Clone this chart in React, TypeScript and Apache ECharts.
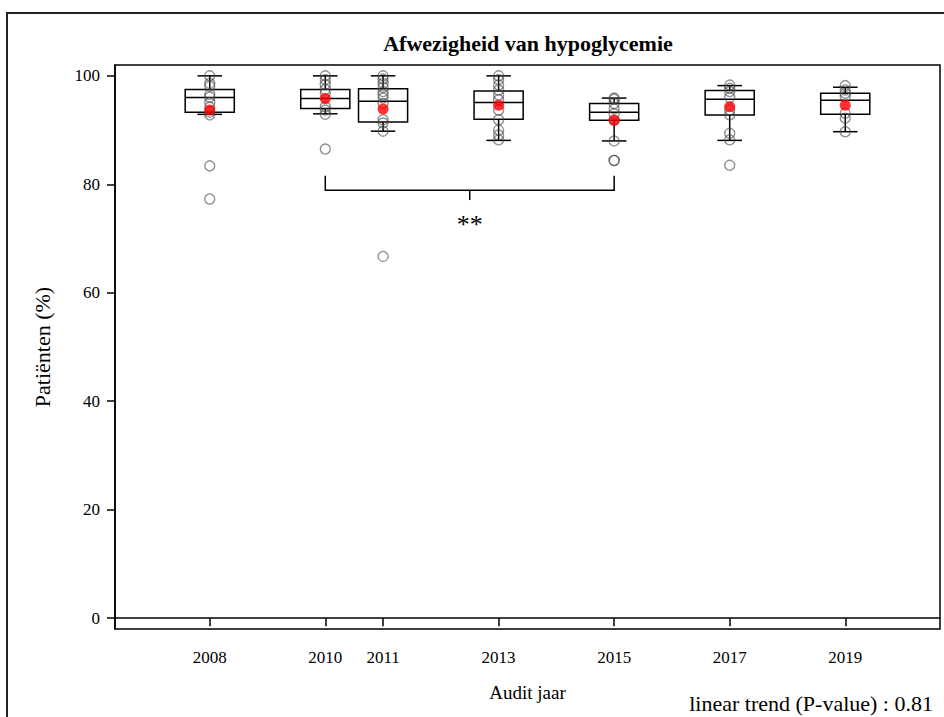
import React, { useEffect, useRef } from "react";
import * as echarts from "echarts";

// Audit years shown on the x axis
const years = [2008, 2010, 2011, 2013, 2015, 2017, 2019];

// Box statistics per audit year (percent of patients)
const whiskerLow = [92.9, 93.0, 89.8, 88.1, 88.0, 88.1, 89.7];
const q1 = [93.3, 94.0, 91.5, 92.0, 91.8, 92.8, 92.9];
const median = [96.0, 95.8, 95.3, 95.1, 93.3, 95.7, 95.5];
const q3 = [97.5, 97.5, 97.6, 97.2, 94.9, 97.3, 96.8];
const whiskerHigh = [100, 100, 100, 100, 95.9, 98.2, 97.9];
const means = [93.7, 95.8, 93.9, 94.6, 91.8, 94.3, 94.6];

// Individual practice results per audit year
const points2008 = [100, 98.6, 98.1, 96.6, 96.1, 95.1, 94.2, 93.3, 92.8, 83.4, 77.3];
const points2010 = [100, 99.3, 98.4, 97.5, 96.8, 94.3, 93.7, 92.9, 86.5];
const points2011 = [100, 99.4, 98.6, 97.9, 97.1, 96.5, 95.9, 94.9, 91.9, 91.3, 89.8, 66.7];
const points2013 = [100, 99.3, 98.3, 97.4, 96.5, 95.6, 93.7, 91.9, 90.0, 89.1, 88.2];
const points2015 = [95.9, 95.7, 94.9, 93.9, 93.0, 91.8, 88.0, 84.4, 84.4];
const points2017 = [98.3, 97.7, 97.1, 96.0, 93.7, 92.8, 89.4, 88.2, 83.5];
const points2019 = [98.2, 97.4, 96.8, 96.2, 93.1, 92.2, 89.7];
const pointsByYear = [points2008, points2010, points2011, points2013, points2015, points2017, points2019];

// Significance bracket between two audit years
const bracketFrom = 2010;
const bracketTo = 2015;
const bracketEnds = 81.6;
const bracketBar = 78.9;
const bracketTick = 77.1;
const bracketLabelAt = 72.6;
const bracketLabel = "**";

const yTicks = [0, 20, 40, 60, 80, 100];

const FONT = "'Liberation Serif', 'Times New Roman', serif";
const BOX_WIDTH_YEARS = 0.85;

export default function App() {
  const ref = useRef<HTMLDivElement>(null);

  useEffect(() => {
    if (!ref.current) return;
    document.body.style.margin = "0";
    const chart = echarts.init(ref.current, undefined, { renderer: "svg" });

    const boxData = years.map((y, i) => [y, whiskerLow[i], q1[i], median[i], q3[i], whiskerHigh[i]]);
    const pointData: number[][] = [];
    pointsByYear.forEach((list, i) => list.forEach((v) => pointData.push([years[i], v])));
    const meanData = years.map((y, i) => [y, means[i]]);

    const line = { stroke: "#000", lineWidth: 1.5 };

    const option: any = {
      animation: false,
      backgroundColor: "#fff",
      grid: {
        left: 115,
        right: 4,
        top: 65,
        bottom: 88,
        show: true,
        borderColor: "#000",
        borderWidth: 1.5,
      },
      xAxis: {
        type: "value",
        min: 2006.36,
        max: 2020.64,
        splitLine: { show: false },
        axisLine: { lineStyle: { color: "#000", width: 1.5 } },
        axisTick: { customValues: years, length: 8, lineStyle: { color: "#000", width: 1.5 } },
        axisLabel: {
          customValues: years,
          formatter: (v: number) => String(v),
          color: "#000",
          fontFamily: FONT,
          fontSize: 17,
          margin: 20,
        },
        name: "Audit jaar",
        nameLocation: "middle",
        nameGap: 54,
        nameTextStyle: { color: "#000", fontFamily: FONT, fontSize: 19 },
      },
      yAxis: {
        type: "value",
        min: -2,
        max: 102,
        splitLine: { show: false },
        axisLine: { show: true, lineStyle: { color: "#000", width: 1.5 } },
        axisTick: { show: true, customValues: yTicks, length: 8, lineStyle: { color: "#000", width: 1.5 } },
        axisLabel: {
          customValues: yTicks,
          color: "#000",
          fontFamily: FONT,
          fontSize: 17,
          margin: 15,
        },
        name: "Patiënten (%)",
        nameLocation: "middle",
        nameGap: 62,
        nameRotate: 90,
        nameTextStyle: { color: "#000", fontFamily: FONT, fontSize: 22 },
      },
      graphic: [
        {
          type: "rect",
          z: -10,
          shape: { x: 7, y: 13, width: 960, height: 740 },
          style: { fill: "none", stroke: "#222", lineWidth: 2 },
        },
        {
          type: "text",
          x: 528,
          y: 43,
          style: {
            text: "Afwezigheid van hypoglycemie",
            fill: "#000",
            font: `bold 22px ${FONT}`,
            align: "center",
            verticalAlign: "middle",
          },
        },
        {
          type: "text",
          x: 933,
          y: 703,
          style: {
            text: "linear trend (P-value) : 0.81",
            fill: "#000",
            font: `22px ${FONT}`,
            align: "right",
            verticalAlign: "middle",
          },
        },
      ],
      series: [
        {
          type: "custom",
          name: "box",
          data: boxData,
          encode: { x: 0, y: [1, 2, 3, 4, 5] },
          z: 2,
          renderItem: (_params: any, api: any) => {
            const yr = api.value(0);
            const w = api.size([BOX_WIDTH_YEARS, 0])[0];
            const [cx, yLow] = api.coord([yr, api.value(1)]);
            const yQ1 = api.coord([yr, api.value(2)])[1];
            const yMed = api.coord([yr, api.value(3)])[1];
            const yQ3 = api.coord([yr, api.value(4)])[1];
            const yHigh = api.coord([yr, api.value(5)])[1];
            const half = w / 2;
            const cap = w / 4;
            return {
              type: "group",
              children: [
                { type: "line", shape: { x1: cx, y1: yQ3, x2: cx, y2: yHigh }, style: line },
                { type: "line", shape: { x1: cx, y1: yQ1, x2: cx, y2: yLow }, style: line },
                { type: "line", shape: { x1: cx - cap, y1: yHigh, x2: cx + cap, y2: yHigh }, style: line },
                { type: "line", shape: { x1: cx - cap, y1: yLow, x2: cx + cap, y2: yLow }, style: line },
                {
                  type: "rect",
                  shape: { x: cx - half, y: yQ3, width: w, height: yQ1 - yQ3 },
                  style: { fill: "none", stroke: "#000", lineWidth: 1.5 },
                },
                { type: "line", shape: { x1: cx - half, y1: yMed, x2: cx + half, y2: yMed }, style: line },
              ],
            };
          },
        },
        {
          type: "scatter",
          name: "praktijken",
          data: pointData,
          symbol: "circle",
          symbolSize: 10,
          z: 3,
          itemStyle: { color: "rgba(0,0,0,0)", borderColor: "rgba(70,70,70,0.75)", borderWidth: 1.4 },
        },
        {
          type: "scatter",
          name: "gemiddelde",
          data: meanData,
          symbol: "circle",
          symbolSize: 11,
          z: 4,
          itemStyle: { color: "#ff0000" },
        },
        {
          type: "custom",
          name: "significantie",
          data: [[bracketFrom, bracketTo, bracketEnds, bracketBar, bracketTick, bracketLabelAt]],
          encode: { x: [0, 1], y: [2, 3, 4, 5] },
          z: 2,
          renderItem: (_params: any, api: any) => {
            const a = api.value(0);
            const b = api.value(1);
            const mid = (a + b) / 2;
            const [xa, yEnds] = api.coord([a, api.value(2)]);
            const [xb, yBar] = api.coord([b, api.value(3)]);
            const [xm, yTick] = api.coord([mid, api.value(4)]);
            const yText = api.coord([mid, api.value(5)])[1];
            return {
              type: "group",
              children: [
                {
                  type: "polyline",
                  shape: { points: [[xa, yEnds], [xa, yBar], [xb, yBar], [xb, yEnds]] },
                  style: { fill: "none", stroke: "#000", lineWidth: 1.5 },
                },
                { type: "line", shape: { x1: xm, y1: yBar, x2: xm, y2: yTick }, style: line },
                {
                  type: "text",
                  style: {
                    text: bracketLabel,
                    x: xm,
                    y: yText,
                    align: "center",
                    verticalAlign: "middle",
                    fill: "#000",
                    font: `26px ${FONT}`,
                  },
                },
              ],
            };
          },
        },
      ],
    };

    chart.setOption(option);
    return () => chart.dispose();
  }, []);

  return <div ref={ref} style={{ width: 944, height: 717 }} />;
}
